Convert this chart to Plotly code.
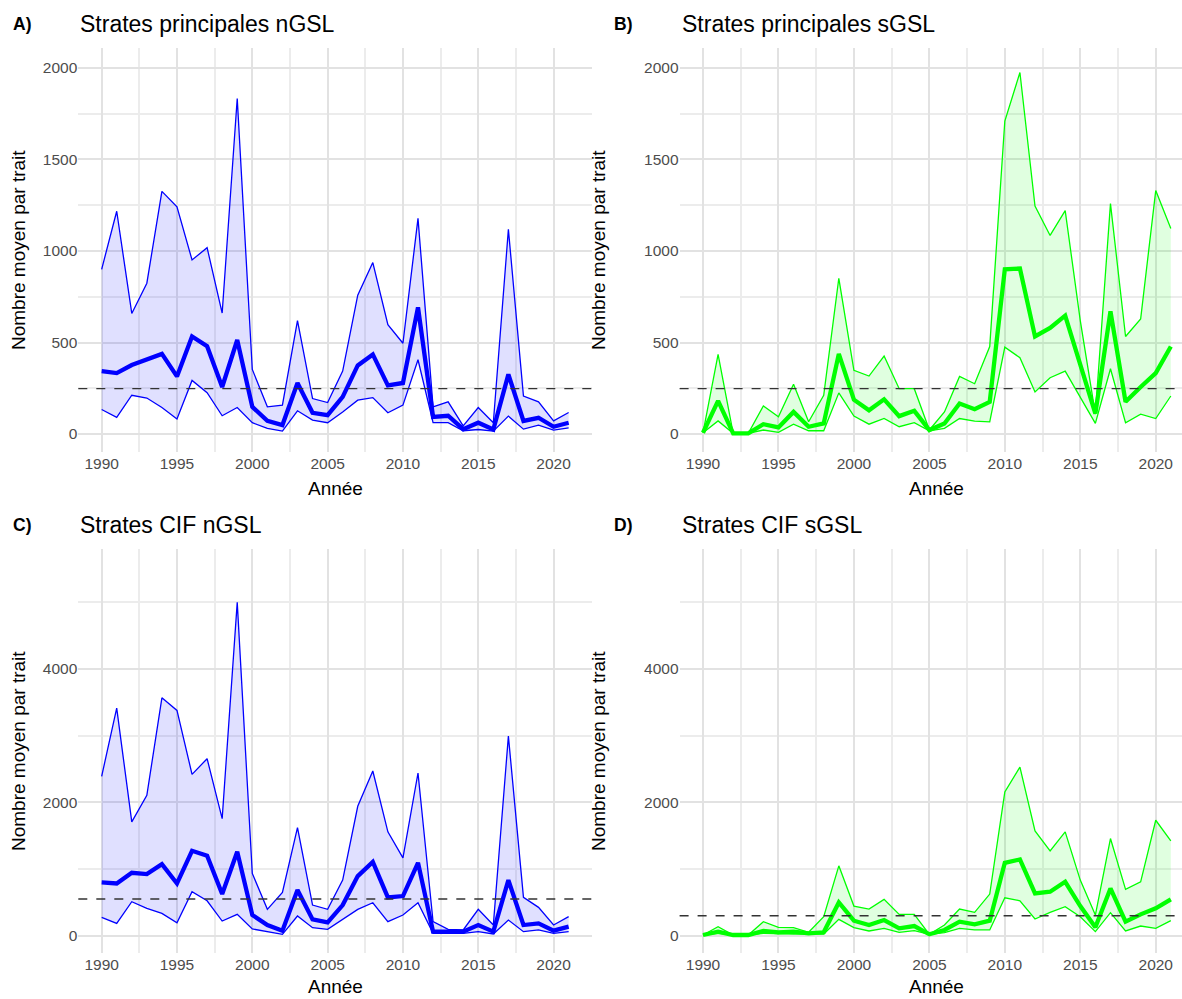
import plotly.graph_objects as go

years = list(range(1990, 2022))

# Panel A: Strates principales nGSL
a_upper = [900, 1217, 659, 824, 1326, 1241, 951, 1018, 661, 1833, 353, 149, 158, 620, 194, 172,
           344, 759, 937, 598, 496, 1178, 149, 176, 45, 145, 62, 1118, 208, 176, 72, 118]
a_mean = [344, 333, 377, 406, 438, 315, 533, 480, 257, 514, 149, 72, 49, 279, 116, 103,
          203, 375, 435, 266, 279, 692, 94, 100, 27, 62, 25, 326, 72, 89, 40, 62]
a_lower = [134, 91, 212, 197, 145, 82, 293, 226, 100, 145, 62, 31, 16, 127, 76, 62,
           121, 185, 199, 116, 158, 406, 62, 62, 18, 25, 16, 98, 27, 49, 22, 34]

# Panel B: Strates principales sGSL
b_upper = [7, 435, 4, 4, 154, 94, 272, 67, 212, 851, 348, 317, 426, 248, 248, 22,
           121, 315, 275, 478, 1710, 1975, 1245, 1085, 1221, 620, 109, 1259, 533, 629, 1330, 1123]
b_mean = [7, 181, 4, 4, 54, 36, 121, 40, 58, 438, 188, 130, 190, 98, 127, 22,
          58, 167, 136, 176, 900, 904, 533, 580, 647, 375, 112, 670, 176, 257, 333, 478]
b_lower = [7, 72, 4, 4, 22, 9, 54, 18, 18, 225, 98, 54, 85, 40, 62, 18,
           31, 85, 71, 67, 475, 417, 230, 308, 344, 203, 58, 357, 62, 109, 85, 208]

# Panel C: Strates CIF nGSL
c_upper = [2392, 3413, 1709, 2108, 3568, 3379, 2422, 2656, 1759, 4998, 937, 399, 653, 1624, 463, 399,
           837, 1943, 2472, 1560, 1171, 2442, 214, 100, 90, 399, 164, 2995, 578, 429, 164, 289]
c_mean = [802, 787, 947, 927, 1076, 787, 1276, 1201, 628, 1261, 314, 164, 80, 688, 249, 204,
          463, 897, 1111, 578, 598, 1096, 65, 65, 65, 164, 65, 837, 164, 189, 80, 140]
c_lower = [279, 189, 513, 414, 339, 199, 663, 528, 224, 324, 105, 65, 25, 299, 125, 100,
           249, 399, 498, 214, 314, 498, 40, 40, 40, 65, 30, 239, 65, 90, 40, 65]

# Panel D: Strates CIF sGSL
d_upper = [15, 140, 15, 15, 214, 130, 125, 55, 289, 1051, 448, 404, 548, 324, 324, 25,
           164, 404, 354, 628, 2158, 2531, 1575, 1276, 1560, 837, 314, 1460, 698, 812, 1734, 1425]
d_mean = [15, 65, 15, 15, 75, 55, 65, 40, 55, 503, 229, 164, 239, 115, 149, 25,
          90, 214, 174, 229, 1096, 1146, 638, 663, 812, 448, 130, 712, 214, 324, 414, 548]
d_lower = [15, 40, 15, 15, 40, 30, 30, 30, 30, 249, 125, 75, 115, 55, 80, 25,
           50, 115, 90, 90, 573, 528, 254, 354, 439, 289, 65, 349, 75, 149, 115, 229]

ref_lines = [248, 248, 553, 304]
titles = ["Strates principales nGSL", "Strates principales sGSL", "Strates CIF nGSL", "Strates CIF sGSL"]
letters = ["A)", "B)", "C)", "D)"]
x_title = "Année"
y_title = "Nombre moyen par trait"

panels = [
    (a_lower, a_mean, a_upper),
    (b_lower, b_mean, b_upper),
    (c_lower, c_mean, c_upper),
    (d_lower, d_mean, d_upper),
]

W, H = 1182, 999
BLUE, GREEN = "#0000FF", "#00FF00"
colors = [BLUE, GREEN, BLUE, GREEN]
fills = ["rgba(0,0,255,0.12)", "rgba(0,255,0,0.12)", "rgba(0,0,255,0.12)", "rgba(0,255,0,0.12)"]

# pixel geometry of panels (left, right, top, bottom)
geom = [
    (78.3, 592, 48, 452),
    (679.6, 1182, 48, 452),
    (78.3, 592, 549, 953),
    (679.6, 1182, 549, 953),
]
xranges = [[1988.45, 2022.55], [1988.45, 2021.74], [1988.45, 2022.55], [1988.45, 2021.74]]
yranges = [[-98, 2109], [-98, 2109], [-255, 5798], [-255, 5798]]
ydt = [500, 500, 2000, 2000]

fig = go.Figure()
FONT = "Liberation Sans, Arial, sans-serif"
TICKC = "#4d4d4d"
MAJ, MIN = "#e2e2e2", "#ececec"
layout = dict(
    width=W, height=H, margin=dict(l=0, r=0, t=0, b=0),
    paper_bgcolor="white", plot_bgcolor="white", showlegend=False,
    font=dict(family=FONT),
)
annotations = []
shapes = []
for i, (lo, me, up) in enumerate(panels):
    xa = "x" if i == 0 else f"x{i+1}"
    ya = "y" if i == 0 else f"y{i+1}"
    xkey = "xaxis" if i == 0 else f"xaxis{i+1}"
    ykey = "yaxis" if i == 0 else f"yaxis{i+1}"
    L, R, T, B = geom[i]
    layout[xkey] = dict(
        domain=[L / W, R / W], range=xranges[i], anchor=ya,
        tick0=1990, dtick=5, showgrid=True, gridcolor=MAJ, gridwidth=2,
        minor=dict(dtick=2.5, tick0=1990, showgrid=True, gridcolor=MIN, gridwidth=1.7),
        zeroline=False, showline=False, ticks="",
        tickfont=dict(size=15.5, color=TICKC, family=FONT),
    )
    layout[ykey] = dict(
        domain=[1 - B / H, 1 - T / H], range=yranges[i], anchor=xa,
        tick0=0, dtick=ydt[i], showgrid=True, gridcolor=MAJ, gridwidth=2,
        minor=dict(dtick=ydt[i] / 2, tick0=0, showgrid=True, gridcolor=MIN, gridwidth=1.7),
        zeroline=False, showline=False, ticks="",
        tickfont=dict(size=15.5, color=TICKC, family=FONT),
    )
    c = colors[i]
    fig.add_trace(go.Scatter(x=years, y=lo, mode="lines", line=dict(color=c, width=1.3),
                             xaxis=xa, yaxis=ya, hoverinfo="skip"))
    fig.add_trace(go.Scatter(x=years, y=up, mode="lines", line=dict(color=c, width=1.3),
                             fill="tonexty", fillcolor=fills[i], xaxis=xa, yaxis=ya, hoverinfo="skip"))
    fig.add_trace(go.Scatter(x=years, y=me, mode="lines", line=dict(color=c, width=4.3),
                             xaxis=xa, yaxis=ya))
    shapes.append(dict(type="line", xref=f"{xa} domain", yref=ya, x0=0, x1=1,
                       y0=ref_lines[i], y1=ref_lines[i],
                       line=dict(color="#333333", width=1.4, dash="dash")))
    ty = 24 if i < 2 else 525
    annotations.append(dict(text=titles[i], x=L / W, y=1 - ty / H, xref="paper", yref="paper",
                            xanchor="left", yanchor="middle", showarrow=False,
                            font=dict(size=23, color="black", family=FONT)))
    lx = 11 if i % 2 == 0 else 612
    ly = 24 if i < 2 else 525
    annotations.append(dict(text=f"<b>{letters[i]}</b>", x=lx / W, y=1 - ly / H, xref="paper", yref="paper",
                            xanchor="left", yanchor="middle", showarrow=False,
                            font=dict(size=17.5, color="black", family=FONT)))
    # x axis title
    off = 37 if i < 2 else 33
    annotations.append(dict(text=x_title, x=((L + (592 if i % 2 == 0 else 1194)) / 2) / W,
                            y=1 - (B + off) / H, xref="paper", yref="paper",
                            xanchor="center", yanchor="middle", showarrow=False,
                            font=dict(size=19, color="black", family=FONT)))
    # y axis title
    yx = 18 if i % 2 == 0 else 598
    annotations.append(dict(text=y_title, x=yx / W, y=1 - ((T + B) / 2) / H, xref="paper", yref="paper",
                            xanchor="center", yanchor="middle", textangle=-90, showarrow=False,
                            font=dict(size=19, color="black", family=FONT)))

layout["annotations"] = annotations
layout["shapes"] = shapes
fig.update_layout(**layout)
fig.write_html("out.html")
